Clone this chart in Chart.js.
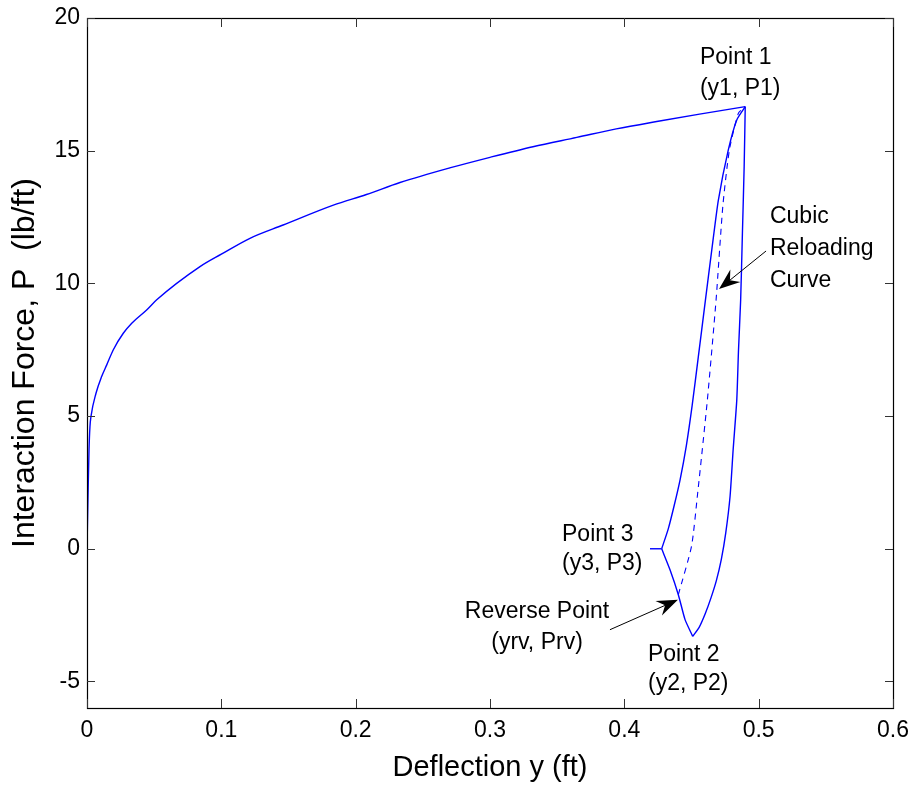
<!DOCTYPE html>
<html>
<head>
<meta charset="utf-8">
<script src="https://cdn.jsdelivr.net/npm/chart.js@4"></script>
<style>
html, body { margin: 0; padding: 0; background: #fff; }
#wrap { width: 913px; height: 788px; }
</style>
</head>
<body>
<div id="wrap"><canvas id="chart" width="913" height="788"></canvas></div>
<script>
// backbone curve, y (ft) vs P (lb/ft)
let backboneY = [0, 0.0003, 0.0007, 0.0015, 0.0022, 0.003, 0.0067, 0.0109, 0.0147, 0.0196, 0.027, 0.0333, 0.0444, 0.0519, 0.0841, 0.1, 0.1213, 0.146, 0.1834, 0.208, 0.233, 0.270, 0.300, 0.332, 0.3646, 0.394, 0.4241, 0.456, 0.490];
let backboneP = [0, 0.8, 1.85, 3.73, 4.6, 5.0, 5.86, 6.49, 6.93, 7.5, 8.12, 8.5, 9.0, 9.38, 10.63, 11.1, 11.7, 12.2, 12.95, 13.35, 13.8, 14.35, 14.75, 15.15, 15.5, 15.82, 16.1, 16.38, 16.66];

// unloading: point 1 -> point 2
let unloadY = [0.490, 0.4892, 0.4879, 0.4866, 0.485, 0.4837, 0.481, 0.4787, 0.4755, 0.4722, 0.4685, 0.4645, 0.4602, 0.4558, 0.4509];
let unloadP = [16.66, 14.4, 11.89, 9.38, 7.5, 5.6, 3.73, 1.97, 0.6, -0.4, -1.2, -1.85, -2.45, -2.95, -3.30];

// point 2 -> point 3 (through reverse point)
let reverseY = [0.4509, 0.4452, 0.4402, 0.434, 0.4278];
let reverseP = [-3.30, -2.67, -1.73, -0.79, 0.0];

// flat piece left of point 3
let flatY = [0.4191, 0.4278];
let flatP = [0, 0];

// reloading: point 3 -> point 1
let reloadY = [0.4278, 0.4327, 0.4372, 0.4415, 0.4462, 0.4505, 0.455, 0.4602, 0.4651, 0.470, 0.4774, 0.4837, 0.490];
let reloadP = [0.0, 0.75, 1.65, 2.6, 3.9, 5.4, 7.2, 9.3, 11.26, 13.14, 15.03, 16.16, 16.66];

// cubic reloading curve (dashed): reverse point -> point 1
let cubicY = [0.4402, 0.45, 0.4546, 0.4618, 0.4683, 0.4733, 0.4782, 0.4849, 0.490];
let cubicP = [-1.73, 0.09, 2.1, 5.6, 9.38, 12.9, 15.03, 16.41, 16.66];

let xTicks = [0, 0.1, 0.2, 0.3, 0.4, 0.5, 0.6];
let yTicks = [-5, 0, 5, 10, 15, 20];

let labels = [
    {y: 0.4563, p: 18.27, t: 'Point 1', a: 'left'},
    {y: 0.4563, p: 17.10, t: '(y1, P1)', a: 'left'},
    {y: 0.5084, p: 12.28, t: 'Cubic', a: 'left'},
    {y: 0.5084, p: 11.07, t: 'Reloading', a: 'left'},
    {y: 0.5084, p: 9.87, t: 'Curve', a: 'left'},
    {y: 0.3536, p: 0.30, t: 'Point 3', a: 'left'},
    {y: 0.3536, p: -0.79, t: '(y3, P3)', a: 'left'},
    {y: 0.335, p: -2.61, t: 'Reverse Point', a: 'center'},
    {y: 0.335, p: -3.77, t: '(yrv, Prv)', a: 'center'},
    {y: 0.4176, p: -4.24, t: 'Point 2', a: 'left'},
    {y: 0.4176, p: -5.34, t: '(y2, P2)', a: 'left'}
];
let arrows = [
    {from: [0.5055, 11.22], to: [0.4705, 9.79]},
    {from: [0.3893, -3.05], to: [0.4399, -1.92]}
];

function pts(xs, ps) {
    return xs.map((v, i) => ({x: v, y: ps[i]}));
}

function line(xs, ps, extra) {
    return Object.assign({
        data: pts(xs, ps),
        showLine: true,
        borderColor: '#0000ff',
        borderWidth: 1.4,
        pointRadius: 0,
        tension: 0.2,
        fill: false
    }, extra || {});
}

// no extra padding from tick labels, chart area comes from layout.padding only
function noPad(s) {
    s.paddingLeft = 0; s.paddingRight = 0;
    s.paddingTop = 0; s.paddingBottom = 0;
}

const FONT = 'Liberation Sans, Arial, Helvetica, sans-serif';
Chart.defaults.font.family = FONT;
Chart.defaults.color = '#000';

const frame = {
    id: 'frame',
    afterDraw(chart) {
        let ctx = chart.ctx;
        let a = chart.chartArea;
        let sx = chart.scales.x, sy = chart.scales.y;
        ctx.save();
        // box
        ctx.strokeStyle = '#000';
        ctx.lineWidth = 1.2;
        ctx.strokeRect(Math.round(a.left) + 0.5, Math.round(a.top) + 0.5, Math.round(a.right - a.left), Math.round(a.bottom - a.top));
        // inward ticks
        ctx.strokeStyle = '#333';
        ctx.lineWidth = 1;
        ctx.beginPath();
        xTicks.forEach(v => {
            let px = Math.round(sx.getPixelForValue(v)) + 0.5;
            ctx.moveTo(px, a.bottom); ctx.lineTo(px, a.bottom - 9);
            ctx.moveTo(px, a.top); ctx.lineTo(px, a.top + 9);
        });
        yTicks.forEach(v => {
            let py = Math.round(sy.getPixelForValue(v)) + 0.5;
            ctx.moveTo(a.left, py); ctx.lineTo(a.left + 8, py);
            ctx.moveTo(a.right, py); ctx.lineTo(a.right - 8, py);
        });
        ctx.stroke();

        // text notes
        ctx.fillStyle = '#000';
        ctx.font = '23px ' + FONT;
        ctx.textBaseline = 'alphabetic';
        labels.forEach(l => {
            ctx.textAlign = l.a;
            ctx.fillText(l.t, sx.getPixelForValue(l.y), sy.getPixelForValue(l.p));
        });

        // arrows
        arrows.forEach(ar => {
            let x0 = sx.getPixelForValue(ar.from[0]), y0 = sy.getPixelForValue(ar.from[1]);
            let x1 = sx.getPixelForValue(ar.to[0]), y1 = sy.getPixelForValue(ar.to[1]);
            let len = Math.hypot(x1 - x0, y1 - y0);
            let dx = (x1 - x0) / len, dy = (y1 - y0) / len;
            let nx = -dy, ny = dx;
            let L = 21, W = 8, N = 14;
            ctx.strokeStyle = '#000';
            ctx.lineWidth = 1;
            ctx.beginPath();
            ctx.moveTo(x0, y0);
            ctx.lineTo(x1 - dx * N, y1 - dy * N);
            ctx.stroke();
            ctx.beginPath();
            ctx.moveTo(x1, y1);
            ctx.lineTo(x1 - dx * L + nx * W, y1 - dy * L + ny * W);
            ctx.lineTo(x1 - dx * N, y1 - dy * N);
            ctx.lineTo(x1 - dx * L - nx * W, y1 - dy * L - ny * W);
            ctx.closePath();
            ctx.fill();
        });
        ctx.restore();
    }
};

let ctx = document.querySelector('#chart');
let chart = new Chart(ctx, {
    type: 'scatter',
    data: {
        datasets: [
            line(backboneY, backboneP, {cubicInterpolationMode: 'monotone'}),
            line(unloadY, unloadP),
            line(reverseY, reverseP),
            line(flatY, flatP, {tension: 0}),
            line(reloadY, reloadP),
            line(cubicY, cubicP, {borderDash: [6, 5], borderWidth: 1.1})
        ]
    },
    options: {
        responsive: false,
        animation: false,
        devicePixelRatio: 1,
        layout: {padding: {left: 0, top: 18, right: 20, bottom: 0}},
        plugins: {
            legend: {display: false},
            tooltip: {enabled: false}
        },
        scales: {
            x: {
                type: 'linear',
                min: 0,
                max: 0.6,
                afterBuildTicks: s => { s.ticks = xTicks.map(v => ({value: v})); },
                afterFit: s => { s.height = 80; noPad(s); },
                grid: {display: false, drawTicks: false},
                border: {display: false},
                ticks: {
                    padding: 9,
                    font: {size: 23},
                    color: '#000',
                    maxRotation: 0,
                    callback: v => String(v)
                },
                title: {
                    display: true,
                    text: 'Deflection y (ft)',
                    font: {size: 29},
                    color: '#000',
                    padding: {top: 0, bottom: 3}
                }
            },
            y: {
                type: 'linear',
                min: -6,
                max: 20,
                afterBuildTicks: s => { s.ticks = yTicks.map(v => ({value: v})); },
                afterFit: s => { s.width = 87; noPad(s); },
                grid: {display: false, drawTicks: false},
                border: {display: false},
                ticks: {
                    padding: 7,
                    font: {size: 23},
                    color: '#000',
                    callback: v => String(v)
                },
                title: {
                    display: true,
                    text: 'Interaction Force, P  (lb/ft)',
                    font: {size: 32},
                    color: '#000',
                    padding: {top: 6, bottom: 0}
                }
            }
        }
    },
    plugins: [frame]
});
</script>
</body>
</html>
